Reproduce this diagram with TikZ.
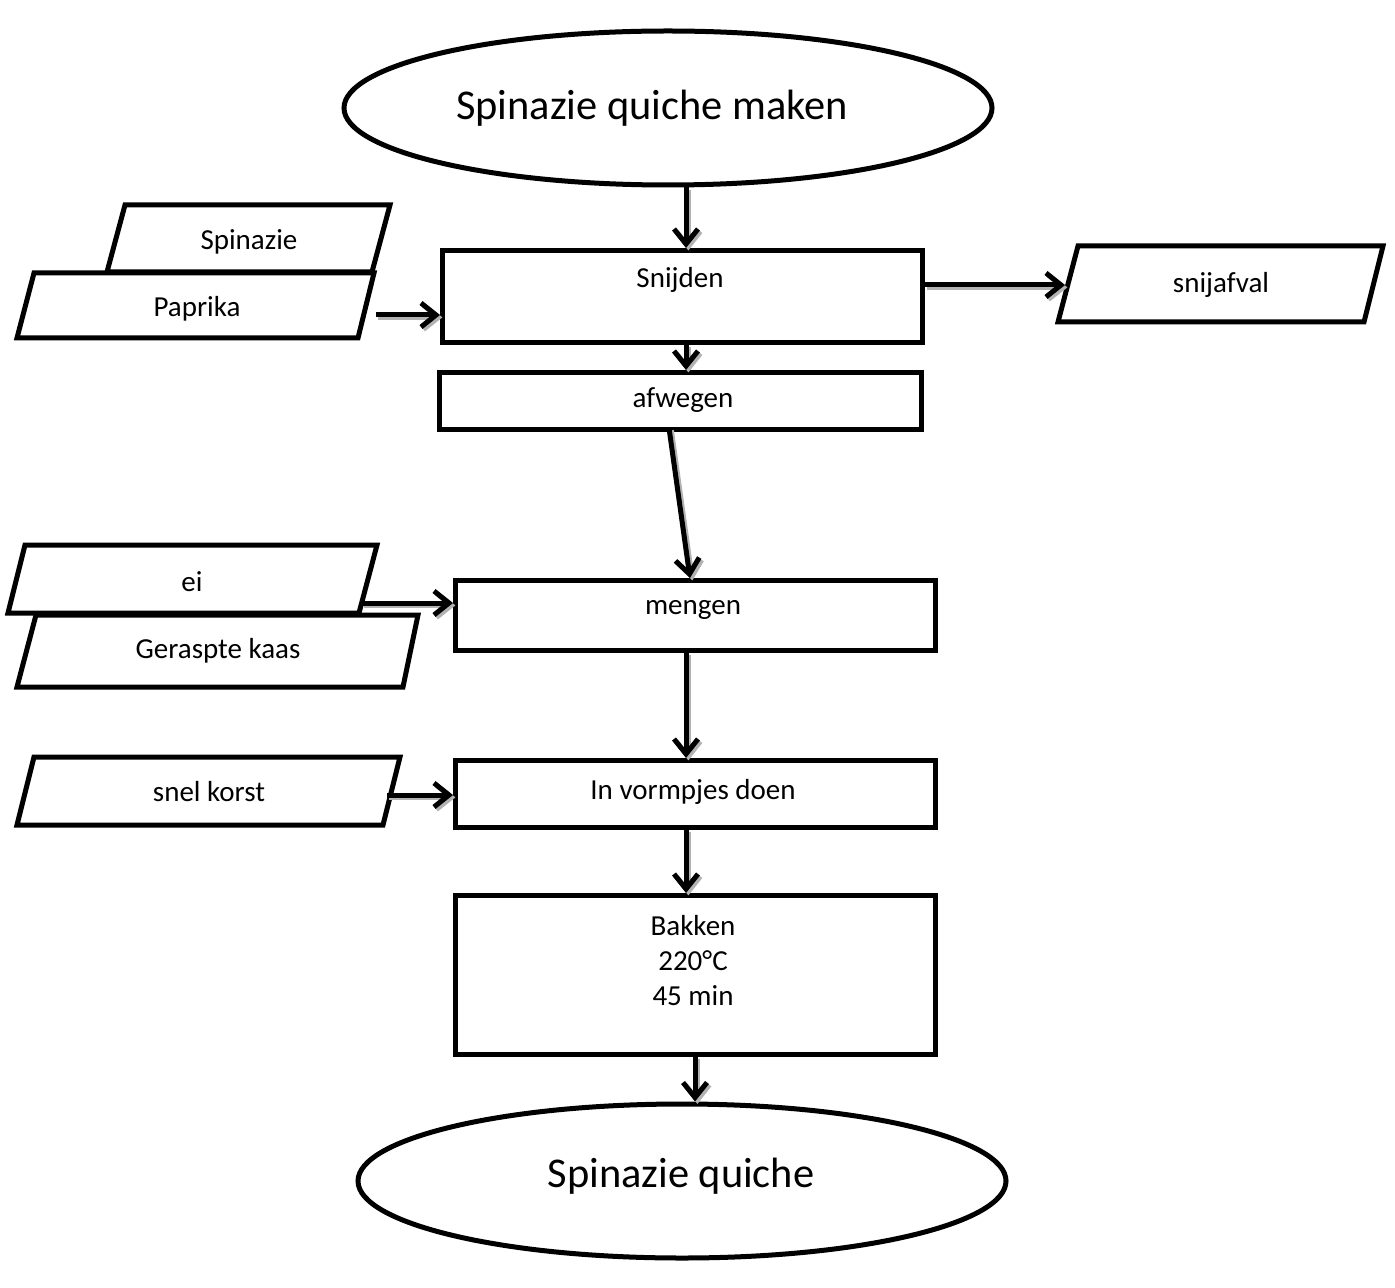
\documentclass[tikz,border=0pt]{standalone}
\usepackage{fontspec}
\setmainfont{Carlito}
\usetikzlibrary{arrows.meta,shapes.geometric}
\tikzset{
  lw/.style={line width=2.5pt},
  tip/.style={-{Straight Barb[length=7.5pt,width=12pt,line width=2.5pt]}},
  boxn/.style={draw,lw,fill=white,rectangle,inner sep=0pt,anchor=north west},
  para/.style={draw,lw,fill=white,line join=miter},
  txt/.style={font=\fontsize{14.5}{17.5}\selectfont,align=center,inner sep=0pt},
  big/.style={font=\fontsize{21.2}{25}\selectfont,inner sep=0pt},
  arr/.style={lw,tip,
    preaction={draw=gray!60,lw,tip,transform canvas={xshift=1.2pt,yshift=-1.2pt}}},
}
\begin{document}
\begin{tikzpicture}[x=0.5pt,y=-0.5pt]
\useasboundingbox (0,0) rectangle (1395,1288);
% top ellipse
\node[draw,lw,ellipse,minimum width=324pt,minimum height=77pt,inner sep=0pt] (start) at (668,108) {};
\node[big] (starttxt) at (652,108) {Spinazie quiche maken};
% Snijden
\node[boxn,minimum width=240pt,minimum height=46pt] (snijden) at (440,248) {};
\node[txt] (snijdentxt) at (680,280) {Snijden};
% Spinazie / Paprika
\draw[para] (125,205) -- (390,205) -- (372,272) -- (107,272) -- cycle;
\node[txt] (spinazie) at (249,242) {Spinazie};
\draw[para] (34,273) -- (374,273) -- (358,338) -- (17,338) -- cycle;
\node[txt] (paprika) at (197,309) {Paprika};
% snijafval
\draw[para] (1078,246) -- (1383,246) -- (1364,322) -- (1058,322) -- cycle;
\node[txt] (snijafval) at (1221,285) {snijafval};
% afwegen
\node[boxn,minimum width=241pt,minimum height=28.5pt] (afwegen) at (437,370) {};
\node[txt] (afwegentxt) at (683,400) {afwegen};
% Geraspte kaas / ei
\draw[para] (36,615) -- (418,615) -- (403,687) -- (17,687) -- cycle;
\node[txt] (kaas) at (218,651) {Geraspte kaas};
\draw[para] (25,545) -- (377,545) -- (359,613) -- (8,613) -- cycle;
\node[txt] (ei) at (192,582) {ei};
% mengen
\node[boxn,minimum width=240pt,minimum height=35pt] (mengen) at (453,578) {};
\node[txt] (mengentxt) at (693,610) {mengen};
% snel korst
\draw[para] (34,757) -- (400,757) -- (383,825) -- (17,825) -- cycle;
\node[txt] (korst) at (209,792) {snel korst};
% In vormpjes doen
\node[boxn,minimum width=240pt,minimum height=33.5pt] (vorm) at (453,758) {};
\node[txt] (vormtxt) at (693,792) {In vormpjes doen};
% Bakken
\node[boxn,minimum width=240pt,minimum height=79.5pt] (bakken) at (453,893) {};
\node[txt] (bakkentxt) at (693,961) {Bakken\\220°C\\45 min};
% end ellipse
\node[draw,lw,ellipse,minimum width=324pt,minimum height=77pt,inner sep=0pt] (end) at (682,1181) {};
\node[big] (endtxt) at (681,1176) {Spinazie quiche};
% connector start coordinates
\coordinate (c1) at (376,315);
\coordinate (c2) at (362,603);
\coordinate (c3) at (387,795);
\coordinate (c4) at (669,428);
% arrows
\draw[arr] (start.south -| 686,0) -- (snijden.north -| 686,0);
\draw[arr] (c1) -- (snijden.west |- c1);
\draw[arr] (snijden.east |- 0,285) -- (1065,285);
\draw[arr] (snijden.south -| 686,0) -- (afwegen.north -| 686,0);
\draw[arr] (c4) -- (mengen.north -| 690,0);
\draw[arr] (c2) -- (mengen.west |- c2);
\draw[arr] (mengen.south -| 686,0) -- (vorm.north -| 686,0);
\draw[arr] (c3) -- (vorm.west |- c3);
\draw[arr] (vorm.south -| 686,0) -- (bakken.north -| 686,0);
\draw[arr] (bakken.south -| 695,0) -- (end.north -| 695,0);
\end{tikzpicture}
\end{document}
